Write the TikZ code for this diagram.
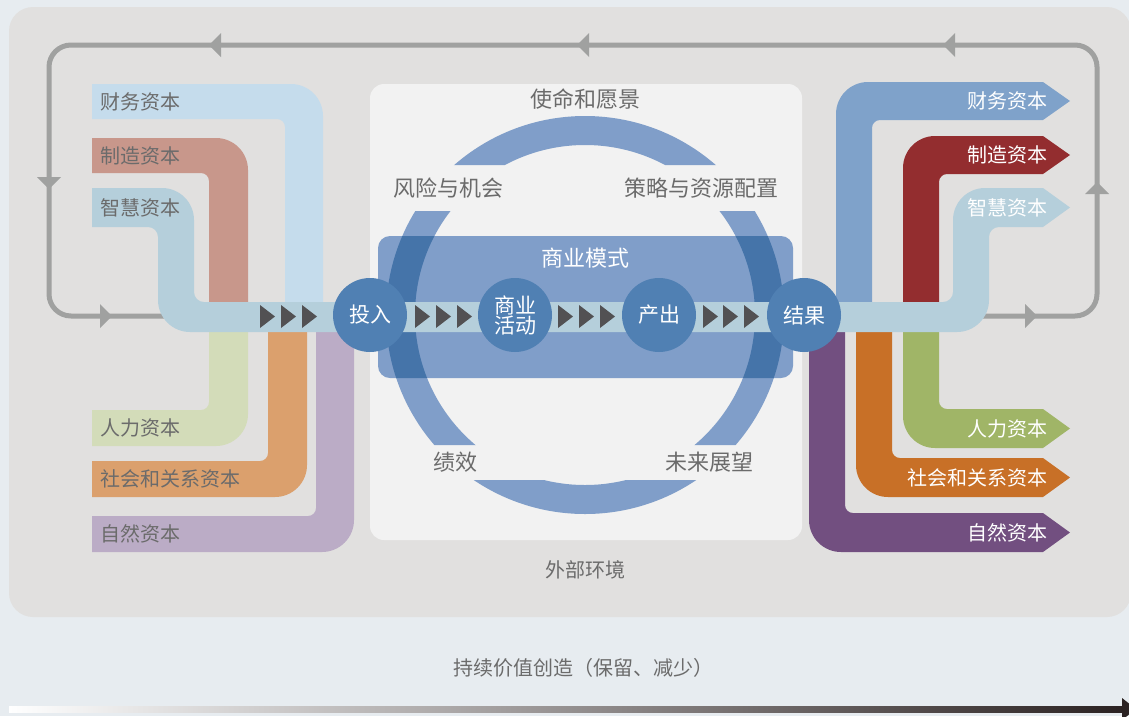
\documentclass[tikz,border=0pt]{standalone}
\usepackage{fontspec}
\setmainfont{Noto Sans CJK SC}
\definecolor{pagebg}{HTML}{E7ECF0}
\definecolor{mainbg}{HTML}{E1E0DF}
\definecolor{panelbg}{HTML}{F2F2F2}
\definecolor{loopgray}{HTML}{A0A1A0}
\definecolor{ringblue}{HTML}{809EC9}
\definecolor{overblue}{HTML}{4574A9}
\definecolor{circblue}{HTML}{5080B3}
\definecolor{tridark}{HTML}{525153}
\definecolor{bandmain}{HTML}{B5CFDB}
\definecolor{lfin}{HTML}{C5DCEC}
\definecolor{lman}{HTML}{C8978B}
\definecolor{lhum}{HTML}{D3DCB9}
\definecolor{lsoc}{HTML}{DBA06D}
\definecolor{lnat}{HTML}{BBACC6}
\definecolor{rfin}{HTML}{7FA2CA}
\definecolor{rman}{HTML}{932D2F}
\definecolor{rhum}{HTML}{A0B567}
\definecolor{rsoc}{HTML}{C87027}
\definecolor{rnat}{HTML}{724F80}
\definecolor{txtgray}{HTML}{6B6B6B}
\definecolor{bardark}{HTML}{2B2222}
% color, x0, ytop, ybot, xl, xr, yend
\newcommand\bandLU[7]{\fill[#1] (#2,#3) -- (#6-32,#3) arc[start angle=90,end angle=0,radius=32pt] -- (#6,#7) -- (#5,#7) -- (#5,#4+8) arc[start angle=0,end angle=90,radius=8pt] -- (#2,#4) -- cycle;}
% color, x0, ytop, ybot, xl, xr, ystart
\newcommand\bandLD[7]{\fill[#1] (#5,#7) -- (#6,#7) -- (#6,#4-32) arc[start angle=0,end angle=-90,radius=32pt] -- (#2,#4) -- (#2,#3) -- (#5-8,#3) arc[start angle=-90,end angle=0,radius=8pt] -- cycle;}
% color, ytop, ybot, xl, xr, yend
\newcommand\bandRU[6]{\fill[#1] (#4,#6) -- (#4,#2+32) arc[start angle=180,end angle=90,radius=32pt] -- (1043,#2) -- (1070,{(#2+#3)/2}) -- (1043,#3) -- (#5+8,#3) arc[start angle=90,end angle=180,radius=8pt] -- (#5,#6) -- cycle;}
% color, ytop, ybot, xl, xr, ystart
\newcommand\bandRD[6]{\fill[#1] (#4,#6) -- (#4,#3-32) arc[start angle=180,end angle=270,radius=32pt] -- (1043,#3) -- (1070,{(#2+#3)/2}) -- (1043,#2) -- (#5+8,#2) arc[start angle=270,end angle=180,radius=8pt] -- (#5,#6) -- cycle;}
\newcommand\flowtri[1]{\fill[tridark] (#1,305) -- (#1+15,316.5) -- (#1,328) -- cycle;}
\newcommand\ringpath{(585,315) circle[radius=199pt] (585,315) circle[radius=170pt]}
\begin{document}
\begin{tikzpicture}[x=1pt,y=-1pt,
  lbl/.style={font=\fontsize{20}{24}\selectfont, inner sep=0pt},
  leftlbl/.style={lbl, text=txtgray, anchor=west},
  rightlbl/.style={lbl, text=white, anchor=east},
  panellbl/.style={font=\fontsize{22}{26}\selectfont, inner sep=0pt, text=txtgray},
  stage/.style={circle, fill=circblue, minimum size=74pt, inner sep=0pt, text=white,
    font=\fontsize{21}{23}\selectfont, align=center}]
\useasboundingbox (0,0) rectangle (1129,716);
\fill[pagebg] (0,0) rectangle (1129,716);
\fill[mainbg, rounded corners=24pt] (9,7) rectangle (1131,617);
% feedback loop
\draw[loopgray, line width=5pt, rounded corners=22pt] (170,316) -- (49,316) -- (49,45) -- (1097,45) -- (1097,316) -- (980,316);
\fill[loopgray] (209,45) -- (221,33) -- (221,57) -- cycle;
\fill[loopgray] (577,45) -- (589,33) -- (589,57) -- cycle;
\fill[loopgray] (943,45) -- (955,33) -- (955,57) -- cycle;
\fill[loopgray] (49,189) -- (37,177) -- (61,177) -- cycle;
\fill[loopgray] (112,316) -- (100,304) -- (100,328) -- cycle;
\fill[loopgray] (1097,182) -- (1085,194) -- (1109,194) -- cycle;
\fill[loopgray] (1037,316) -- (1025,304) -- (1025,328) -- cycle;
% panel
\fill[panelbg, rounded corners=14pt] (370,84) rectangle (802,540);
% ring and business-model box
\begin{scope}
\clip (0,0) rectangle (1129,165) (0,211) rectangle (1129,445) (0,480) rectangle (1129,716);
\fill[ringblue, even odd rule] \ringpath;
\end{scope}
\fill[ringblue, rounded corners=12pt] (378,236) rectangle (793,378);
\begin{scope}
\clip[rounded corners=12pt] (378,236) rectangle (793,378);
\fill[overblue, even odd rule] \ringpath;
\end{scope}
% left bands
\bandLU{lfin}{92}{84}{119}{285}{323}{303}
\bandLU{lman}{92}{138}{173}{209}{248}{303}
\bandLD{lhum}{92}{410}{446}{209}{248}{331}
\bandLD{lsoc}{92}{461}{497}{268}{307}{331}
\bandLD{lnat}{92}{516}{552}{316}{354}{331}
% right bands
\bandRU{rfin}{82}{120}{836}{872}{303}
\bandRU{rman}{136}{174}{903}{939}{303}
\bandRD{rhum}{409}{448}{903}{939}{331}
\bandRD{rsoc}{458}{497}{856}{892}{331}
\bandRD{rnat}{513}{552}{809}{845}{331}
% main band (intellectual capital through the business)
\fill[bandmain] (92,188) -- (162,188) arc[start angle=90,end angle=0,radius=32pt] -- (194,292) arc[start angle=180,end angle=270,radius=10pt] -- (943,302) arc[start angle=270,end angle=360,radius=10pt] -- (953,220) arc[start angle=180,end angle=90,radius=32pt] -- (1043,188) -- (1070,207.5) -- (1043,227) -- (999,227) arc[start angle=90,end angle=180,radius=10pt] -- (989,300) arc[start angle=0,end angle=-90,radius=32pt] -- (190,332) arc[start angle=270,end angle=180,radius=32pt] -- (158,237) arc[start angle=0,end angle=90,radius=10pt] -- (92,227) -- cycle;
% flow triangles
\flowtri{260}\flowtri{281}\flowtri{302}
\flowtri{415}\flowtri{436}\flowtri{457}
\flowtri{558}\flowtri{579}\flowtri{600}
\flowtri{703}\flowtri{723}\flowtri{744}
% stages
\node[stage] (in) at (370,315) {投入};
\node[stage] (act) at (515,315) {商业\\[-3pt]活动};
\node[stage] (out) at (659,315) {产出};
\node[stage] (res) at (804,315) {结果};
% left labels
\node[leftlbl] (lt1) at (100,101.5) {财务资本};
\node[leftlbl] (lt2) at (100,155.5) {制造资本};
\node[leftlbl] (lt3) at (100,207.5) {智慧资本};
\node[leftlbl] (lt4) at (100,428) {人力资本};
\node[leftlbl] (lt5) at (100,479) {社会和关系资本};
\node[leftlbl] (lt6) at (100,534) {自然资本};
% right labels
\node[rightlbl] (rt1) at (1048,101) {财务资本};
\node[rightlbl] (rt2) at (1048,155) {制造资本};
\node[rightlbl] (rt3) at (1048,207.5) {智慧资本};
\node[rightlbl] (rt4) at (1048,428.5) {人力资本};
\node[rightlbl] (rt5) at (1048,477.5) {社会和关系资本};
\node[rightlbl] (rt6) at (1048,532.5) {自然资本};
% panel labels
\node[panellbl] (mission) at (585,99) {使命和愿景};
\node[panellbl] (risk) at (448,188) {风险与机会};
\node[panellbl] (strat) at (701,188) {策略与资源配置};
\node[panellbl] (perf) at (455,462) {绩效};
\node[panellbl] (outlook) at (709,462) {未来展望};
\node[panellbl, text=white] (bm) at (585,258) {商业模式};
\node[lbl, text=txtgray] (env) at (585,570) {外部环境};
% bottom
\node[lbl, text=txtgray] (value) at (583,668) {持续价值创造（保留、减少）};
\shade[left color=white, right color=bardark] (9,706) rectangle (1123,712);
\fill[bardark] (1122,698) -- (1136,709) -- (1122,720) -- cycle;
\end{tikzpicture}
\end{document}
